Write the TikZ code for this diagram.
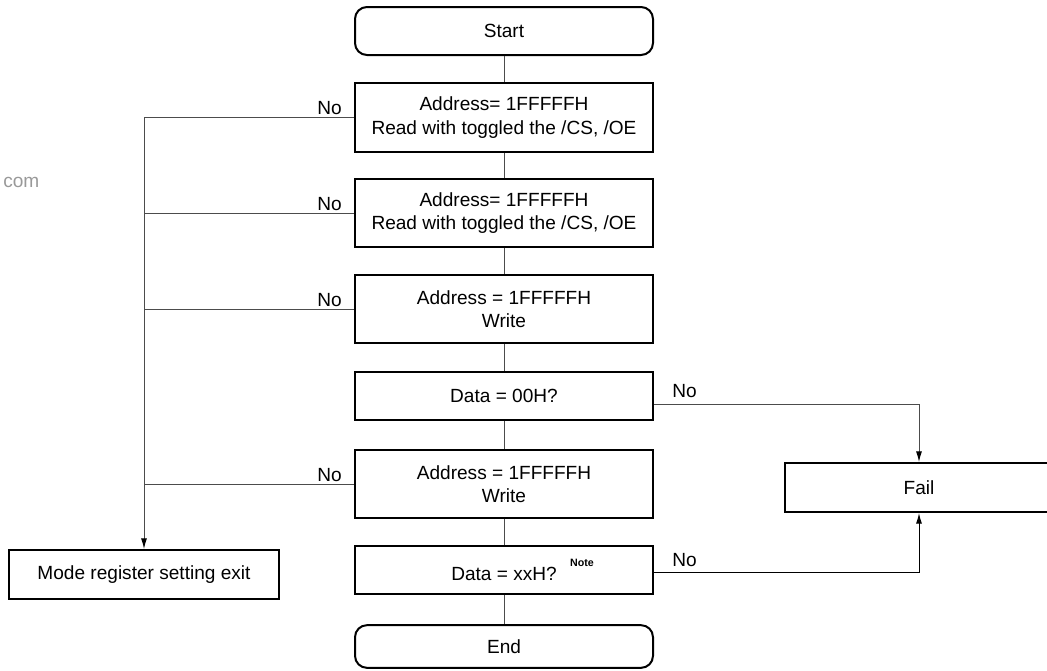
\documentclass[tikz,border=0pt]{standalone}
\usepackage{fontspec}
\setmainfont{Liberation Sans}
\usetikzlibrary{arrows.meta}
\begin{document}
\begin{tikzpicture}[x=0.75pt,y=-0.75pt,
  every node/.style={font=\fontsize{14.3}{17.5}\selectfont},
  box/.style={draw=black,line width=1.5pt,fill=white,align=center,inner sep=0pt,minimum width=223.5pt,minimum height=51.5pt},
  dbox/.style={box,minimum height=36pt},
  term/.style={box,rounded corners=9pt,minimum height=36pt},
  side/.style={box,minimum width=202.5pt,minimum height=36.75pt},
  conn/.style={draw=black!70,line width=0.75pt},
  arr/.style={conn,-{Latex[length=8pt,width=4.5pt,color=black]}},
  lbl/.style={inner sep=0pt}
]
\useasboundingbox (0,0) rectangle (1047,671);

\node[term] (start) at (504,31) {Start};
\node[box]  (b1) at (504,117.5) {Address= 1FFFFFH\\Read with toggled the /CS, /OE};
\node[box]  (b2) at (504,213) {Address= 1FFFFFH\\Read with toggled the /CS, /OE};
\node[box]  (b3) at (504,309) {Address = 1FFFFFH\\Write};
\node[dbox] (d1) at (504,396) {Data = 00H?};
\node[box]  (b5) at (504,484) {Address = 1FFFFFH\\Write};
\node[dbox] (d2) at (504,570) {Data = xxH?\rlap{\hspace{10pt}\raisebox{10.5pt}{\fontsize{8}{9}\selectfont\bfseries Note}}};
\node[term,minimum height=32pt] (end) at (504,646.5) {End};

\node[side] (mode) at (144,574.5) {Mode register setting exit};
\node[side,minimum width=201pt] (fail) at (919,487.5) {Fail};

\node[lbl,anchor=base west,text=black!40] (com) at (3,187) {com};

\draw[conn] (start) -- (b1);
\draw[conn] (b1) -- (b2);
\draw[conn] (b2) -- (b3);
\draw[conn] (b3) -- (d1);
\draw[conn] (d1) -- (b5);
\draw[conn] (b5) -- (d2);
\draw[conn] (d2) -- (end);

\draw[arr] (b1.west) -| (mode.north);
\draw[conn] (b2.west) -- (b2.west -| mode.north);
\draw[conn] (b3.west) -- (b3.west -| mode.north);
\draw[conn] (b5.west) -- (b5.west -| mode.north);

\node[lbl,anchor=base east] (no1) at (342,114) {No};
\node[lbl,anchor=base east] (no2) at (342,210) {No};
\node[lbl,anchor=base east] (no3) at (342,306) {No};
\node[lbl,anchor=base east] (no5) at (342,481) {No};

\draw[arr] ([yshift=-6pt]d1.east) -| (fail.north);
\draw[arr,draw=black] ([yshift=-1.5pt]d2.east) -| (fail.south);
\node[lbl,anchor=base west] (no4) at (672,397) {No};
\node[lbl,anchor=base west] (no6) at (672,566) {No};
\end{tikzpicture}
\end{document}
